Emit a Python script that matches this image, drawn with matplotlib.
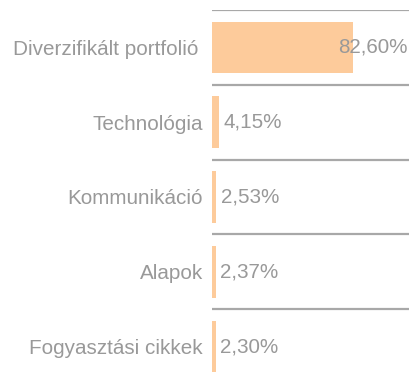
import matplotlib
matplotlib.use('Agg')
import matplotlib.pyplot as plt
import matplotlib.transforms as mtransforms

# 数据
categories = ['Diverzifikált portfolió', 'Technológia', 'Kommunikáció', 'Alapok', 'Fogyasztási cikkek']
values = [82.60, 4.15, 2.53, 2.37, 2.30]
value_labels = ['82,60%', '4,15%', '2,53%', '2,37%', '2,30%']

BAR_COLOR = '#FDCB9B'
TEXT_COLOR = '#999999'
LINE_COLOR = '#A8A8A8'
FS = 14.9

plt.rcParams['font.family'] = ['Liberation Sans', 'DejaVu Sans']

W, H = 410, 379
fig = plt.figure(figsize=(W / 100, H / 100), dpi=100)
ax = fig.add_axes([212 / W, 0, 198 / W, 369 / H])

y = list(range(len(categories)))
ax.barh(y, values, height=0.69, color=BAR_COLOR)

xmax = 116
ax.set_xlim(0, xmax)
ax.set_ylim(4.5 - 5 / 75, -0.5)

# 行分隔线
for i in range(len(categories)):
    ax.axhline(i - 0.5, color=LINE_COLOR, lw=1.6)

# 数值标签
for yi, v, lab in zip(y, values, value_labels):
    if v > xmax * 0.6:
        ax.text(xmax - 1.2, yi, lab, ha='right', va='center', fontsize=FS, color=TEXT_COLOR)
    else:
        ax.text(v + 2.6, yi, lab, ha='left', va='center', fontsize=FS, color=TEXT_COLOR)

ax.set_yticks(y)
ax.set_yticklabels(categories, fontsize=FS, color=TEXT_COLOR)
ax.tick_params(axis='y', length=0, pad=6.5)
ax.set_xticks([])
for s in ax.spines.values():
    s.set_visible(False)

# 第一行标签略靠左
first = ax.get_yticklabels()[0]
first.set_transform(first.get_transform() +
                    mtransforms.ScaledTranslation(-5 / 100, 0, fig.dpi_scale_trans))

fig.savefig('out.png', dpi=100)
